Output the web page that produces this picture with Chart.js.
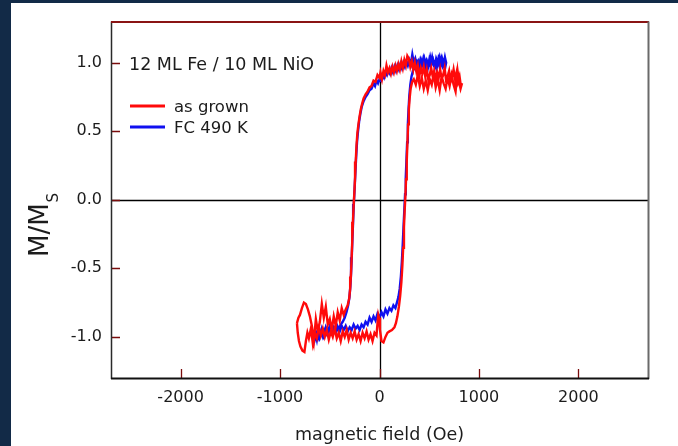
<!DOCTYPE html>
<html>
<head>
<meta charset="utf-8">
<script src="https://cdn.jsdelivr.net/npm/chart.js@4/dist/chart.umd.min.js"></script>
<style>
  html, body { margin: 0; padding: 0; width: 678px; height: 446px; overflow: hidden; background: #122a47; }
  #panel { position: absolute; left: 11px; top: 3px; width: 667px; height: 443px; background: #ffffff; }
  canvas { display: block; }
</style>
</head>
<body>
<div id="panel"><canvas id="loop" width="667" height="443"></canvas></div>
<script>
// Hysteresis loops of 12 ML Fe on 10 ML NiO: field (Oe) vs normalised magnetisation M/Ms.
// Each branch is a list of [field, M/Ms] pairs.

const asGrownRising = [
  [-830,-0.90],[-822,-0.97],[-810,-1.03],[-795,-1.07],[-775,-1.10],[-755,-1.11],[-740,-1.03],[-725,-0.97],[-710,-1.01],
  [-690,-0.94],[-670,-1.05],[-650,-0.97],[-630,-1.01],[-610,-0.93],[-590,-0.99],[-570,-0.94],[-550,-1.00],[-530,-0.95],
  [-510,-1.02],[-490,-0.96],[-470,-1.00],[-450,-0.94],[-430,-1.01],[-410,-0.97],[-390,-1.03],[-370,-0.96],[-350,-1.00],
  [-330,-0.95],[-310,-1.02],[-290,-0.97],[-270,-1.01],[-250,-0.96],[-230,-1.02],[-210,-0.98],[-190,-1.03],[-170,-0.97],
  [-150,-1.01],[-130,-0.96],[-110,-1.02],[-90,-0.98],[-70,-1.03],[-50,-0.97],[-30,-0.99],[-20,-0.90],[-12,-0.84],
  [-5,-0.86],[5,-0.95],[20,-1.03],[40,-1.04],[60,-1.00],[80,-0.97],[100,-0.96],[125,-0.95],[150,-0.93],[165,-0.90],
  [180,-0.85],[195,-0.78],[208,-0.70],[220,-0.60],[230,-0.48],[238,-0.35],[246,-0.20],[253,-0.08],[260,0.02],
  [267,0.15],[274,0.28],[281,0.42],[288,0.55],[295,0.66],[303,0.74],[313,0.81],[328,0.86],[345,0.88],
  [365,0.84],[385,0.91],[405,0.83],[425,0.89],[445,0.81],[465,0.87],[485,0.80],[505,0.88],[525,0.84],[545,0.92],
  [565,0.82],[585,0.88],[605,0.80],[625,0.90],[645,0.85],[665,0.81],[685,0.89],[705,0.83],[725,0.91],[745,0.84],
  [765,0.79],[785,0.94],[800,0.86],[815,0.81],[830,0.85]
];

const asGrownFalling = [
  [830,0.85],[818,0.83],[805,0.90],[790,0.86],[775,0.93],[760,0.88],[745,0.95],[730,0.89],[715,0.86],[700,0.94],
  [685,0.90],[670,0.87],[655,0.96],[640,0.91],[625,0.88],[610,0.95],[595,0.89],[580,0.93],[565,0.87],[550,0.94],
  [535,0.90],[520,0.96],[505,0.91],[490,0.88],[475,0.95],[460,0.90],[445,0.97],[430,0.92],[415,0.96],[400,0.90],
  [385,0.98],[370,0.94],[355,1.00],[340,0.95],[325,1.01],[310,0.97],[295,1.03],[280,1.05],[265,0.98],[250,1.02],
  [235,0.96],[220,1.01],[205,0.95],[190,0.99],[175,0.94],[160,0.98],[145,0.93],[130,0.97],[115,0.92],[100,0.96],
  [85,0.93],[70,0.98],[55,0.91],[40,0.94],[25,0.88],[10,0.93],[0,0.89],[-20,0.91],[-40,0.86],[-60,0.87],
  [-80,0.83],[-100,0.82],[-120,0.79],[-140,0.77],[-160,0.74],[-175,0.70],[-188,0.66],[-200,0.61],[-212,0.55],
  [-222,0.49],[-231,0.40],[-239,0.28],[-246,0.16],[-253,0.05],[-260,-0.04],[-267,-0.16],[-274,-0.30],[-281,-0.44],
  [-288,-0.56],[-295,-0.65],[-305,-0.72],[-320,-0.77],[-340,-0.80],[-360,-0.84],[-380,-0.79],[-400,-0.88],
  [-420,-0.82],[-440,-0.92],[-460,-0.85],[-480,-0.95],[-500,-0.87],[-520,-0.91],[-540,-0.78],[-560,-0.86],
  [-580,-0.76],[-600,-0.89],[-620,-0.96],[-640,-0.87],[-660,-1.03],[-680,-0.92],[-700,-0.85],[-720,-0.80],
  [-740,-0.76],[-760,-0.75],[-780,-0.79],[-800,-0.84],[-815,-0.86],[-830,-0.90]
];

const fc490Rising = [
  [-670,-0.98],[-660,-1.03],[-645,-0.97],[-630,-1.02],[-615,-0.95],[-600,-1.00],[-580,-0.94],[-560,-0.99],
  [-540,-0.93],[-520,-0.97],[-500,-0.92],[-480,-0.96],[-460,-0.93],[-440,-0.97],[-420,-0.94],[-400,-0.96],
  [-380,-0.92],[-360,-0.95],[-340,-0.92],[-320,-0.96],[-300,-0.93],[-280,-0.95],[-260,-0.91],[-240,-0.94],
  [-220,-0.92],[-200,-0.95],[-180,-0.91],[-160,-0.93],[-140,-0.89],[-120,-0.91],[-100,-0.86],[-80,-0.89],
  [-60,-0.85],[-40,-0.88],[-20,-0.83],[0,-0.86],[20,-0.82],[40,-0.85],[60,-0.80],[80,-0.83],[100,-0.79],
  [120,-0.81],[140,-0.77],[160,-0.79],[175,-0.75],[190,-0.71],[203,-0.65],[215,-0.56],[225,-0.45],[234,-0.32],
  [242,-0.19],[250,-0.07],[257,0.04],[264,0.16],[271,0.29],[278,0.42],[285,0.55],[292,0.66],[300,0.76],
  [310,0.84],[322,0.90],[336,0.94],[350,0.97],[365,0.95],[380,1.00],[395,0.97],[410,1.02],[425,0.98],
  [440,1.03],[455,0.97],[470,1.01],[485,0.96],[500,1.02],[515,0.98],[530,1.04],[545,0.99],[560,1.01],
  [575,0.96],[590,1.02],[605,0.97],[620,1.03],[635,0.98],[650,1.02],[662,0.97],[670,1.00]
];

const fc490Falling = [
  [670,1.00],[658,1.04],[645,0.99],[630,1.03],[615,0.98],[600,1.04],[585,1.00],[570,1.03],[555,0.97],[540,1.02],
  [525,0.99],[510,1.04],[495,0.98],[480,1.01],[465,0.97],[450,1.03],[435,0.99],[420,1.02],[405,0.97],[390,1.01],
  [375,0.98],[360,1.03],[345,1.00],[330,1.06],[315,0.99],[300,1.02],[285,0.98],[270,1.01],[255,0.97],[240,1.00],
  [225,0.96],[210,0.99],[195,0.95],[180,0.98],[165,0.94],[150,0.97],[135,0.93],[120,0.96],[105,0.92],[90,0.94],
  [75,0.91],[60,0.93],[45,0.89],[30,0.91],[15,0.87],[0,0.88],[-15,0.85],[-30,0.87],[-45,0.83],[-60,0.85],
  [-80,0.81],[-100,0.80],[-120,0.77],[-140,0.75],[-160,0.72],[-178,0.68],[-192,0.63],[-205,0.57],[-216,0.50],
  [-226,0.42],[-235,0.31],[-243,0.19],[-251,0.07],[-258,-0.03],[-265,-0.15],[-272,-0.28],[-279,-0.42],
  [-286,-0.54],[-293,-0.63],[-302,-0.71],[-315,-0.77],[-332,-0.82],[-350,-0.86],[-370,-0.89],[-390,-0.91],
  [-410,-0.94],[-430,-0.91],[-450,-0.96],[-470,-0.93],[-490,-0.97],[-510,-0.94],[-530,-0.98],[-550,-0.95],
  [-570,-1.00],[-590,-0.96],[-610,-1.01],[-630,-0.97],[-650,-1.02],[-670,-0.98]
];

const seriesNames = ['as grown', 'FC 490 K'];
const sampleLabel = '12 ML Fe / 10 ML NiO';
const fieldTicks = [-2000, -1000, 0, 1000, 2000];
const magTicks = [-1.0, -0.5, 0.0, 0.5, 1.0];

const FONT = '"DejaVu Sans", Verdana, sans-serif';
const INK = '#1c1c1c';
const TICK_RED = '#7a0c0c';

const toPoints = pairs => pairs.map(([x, y]) => ({ x, y }));

// Frame, zero lines, inward tick marks, sample label, legend and the M/Ms title.
const decor = {
  id: 'decor',
  beforeDatasetsDraw(chart) {
    const { ctx, chartArea: a, scales: { x, y } } = chart;
    const x0 = Math.round(x.getPixelForValue(0)) + 0.5;
    const y0 = Math.round(y.getPixelForValue(0)) + 0.5;
    ctx.save();
    ctx.strokeStyle = '#000';
    ctx.lineWidth = 1.3;
    ctx.beginPath();
    ctx.moveTo(x0, a.top); ctx.lineTo(x0, a.bottom);
    ctx.moveTo(a.left, y0); ctx.lineTo(a.right, y0);
    ctx.stroke();
    ctx.restore();
  },
  afterDraw(chart) {
    const { ctx, chartArea: a, scales: { x, y } } = chart;
    ctx.save();

    // inward ticks
    ctx.strokeStyle = TICK_RED;
    ctx.lineWidth = 1.3;
    ctx.beginPath();
    magTicks.forEach(v => {
      const py = Math.round(y.getPixelForValue(v)) + 0.5;
      ctx.moveTo(a.left, py); ctx.lineTo(a.left + 9, py);
    });
    fieldTicks.forEach(v => {
      const px = Math.round(x.getPixelForValue(v)) + 0.5;
      ctx.moveTo(px, a.bottom); ctx.lineTo(px, a.bottom - 9);
    });
    ctx.stroke();

    // frame
    ctx.lineWidth = 1.5;
    ctx.strokeStyle = '#2a2a2a';
    ctx.beginPath(); ctx.moveTo(a.left + 0.5, a.top); ctx.lineTo(a.left + 0.5, a.bottom + 1); ctx.stroke();
    ctx.strokeStyle = '#8a1414';
    ctx.lineWidth = 2;
    ctx.beginPath(); ctx.moveTo(a.left, a.top + 0.5); ctx.lineTo(a.right + 1, a.top + 0.5); ctx.stroke();
    ctx.strokeStyle = '#6a6a6a';
    ctx.beginPath(); ctx.moveTo(a.right + 0.5, a.top); ctx.lineTo(a.right + 0.5, a.bottom + 1); ctx.stroke();
    ctx.strokeStyle = '#111';
    ctx.beginPath(); ctx.moveTo(a.left, a.bottom + 0.5); ctx.lineTo(a.right + 1, a.bottom + 0.5); ctx.stroke();

    // sample label
    ctx.fillStyle = INK;
    ctx.textBaseline = 'alphabetic';
    ctx.textAlign = 'left';
    ctx.font = '17.5px ' + FONT;
    ctx.fillText(sampleLabel, a.left + 18, 67);

    // legend
    ctx.font = '16.5px ' + FONT;
    chart.data.datasets.forEach((ds, i) => {
      const ly = 103 + i * 21;
      ctx.strokeStyle = ds.borderColor;
      ctx.lineWidth = 3;
      ctx.beginPath(); ctx.moveTo(a.left + 19, ly); ctx.lineTo(a.left + 54, ly); ctx.stroke();
      ctx.fillStyle = INK;
      ctx.fillText(ds.label, a.left + 63, ly + 5.5);
    });

    // y title M/M_S
    ctx.translate(37, 214);
    ctx.rotate(-Math.PI / 2);
    ctx.fillStyle = INK;
    ctx.font = '26px ' + FONT;
    const main = 'M/M';
    const w = ctx.measureText(main).width;
    ctx.fillText(main, -40, 0);
    ctx.font = '15px ' + FONT;
    ctx.fillText('S', -40 + w + 1, 10);

    ctx.restore();
  }
};

new Chart(document.getElementById('loop'), {
  type: 'scatter',
  data: {
    datasets: [
      {
        label: seriesNames[0],
        data: toPoints(asGrownRising.concat(asGrownFalling)),
        showLine: true, borderColor: '#ff0a0a', borderWidth: 2.4,
        pointRadius: 0, tension: 0
      },
      {
        label: seriesNames[1],
        data: toPoints(fc490Rising.concat(fc490Falling)),
        showLine: true, borderColor: '#1010f0', borderWidth: 2.4,
        pointRadius: 0, tension: 0
      }
    ]
  },
  options: {
    responsive: false,
    animation: false,
    devicePixelRatio: 1,
    layout: { padding: { top: 18, right: 30, left: 0, bottom: 0 } },
    plugins: { legend: { display: false }, tooltip: { enabled: false } },
    scales: {
      x: {
        type: 'linear', min: -2700, max: 2700,
        afterBuildTicks: s => { s.ticks = fieldTicks.map(v => ({ value: v })); },
        afterFit: s => { s.height = 68; },
        grid: { display: false, drawTicks: false },
        border: { display: false },
        ticks: { font: { family: FONT, size: 16 }, color: INK, padding: 10, maxRotation: 0, autoSkip: false, callback: v => String(v) },
        title: { display: true, text: 'magnetic field (Oe)', color: INK, font: { family: FONT, size: 17.5 }, padding: { top: 0, bottom: 0 } }
      },
      y: {
        type: 'linear', min: -1.3, max: 1.3,
        afterBuildTicks: s => { s.ticks = magTicks.map(v => ({ value: v })); },
        afterFit: s => { s.width = 100; },
        grid: { display: false, drawTicks: false },
        border: { display: false },
        ticks: { font: { family: FONT, size: 16 }, color: INK, padding: 9, autoSkip: false, callback: v => v.toFixed(1) }
      }
    }
  },
  plugins: [decor]
});
</script>
</body>
</html>
